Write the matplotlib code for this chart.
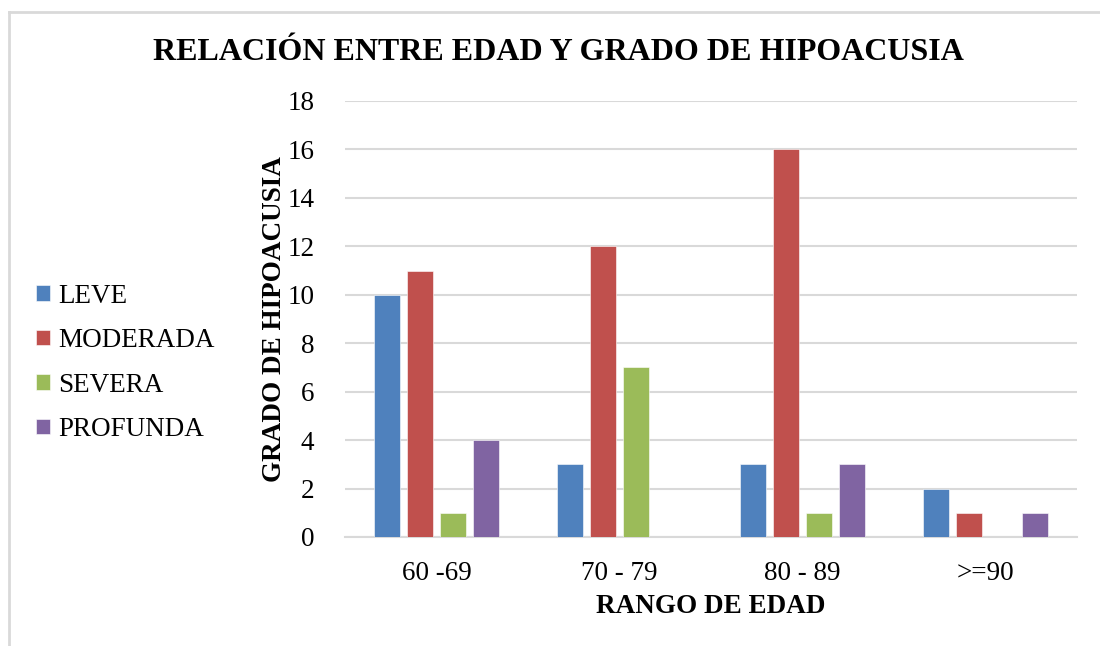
import matplotlib
matplotlib.use("Agg")
import matplotlib.pyplot as plt
from matplotlib.lines import Line2D
import numpy as np

categories = ["60 -69", "70 - 79", "80 - 89", ">=90"]
series_names = ["LEVE", "MODERADA", "SEVERA", "PROFUNDA"]
leve = [10, 3, 3, 2]
moderada = [11, 12, 16, 1]
severa = [1, 7, 1, 0]
profunda = [4, 0, 3, 1]
yticks = [0, 2, 4, 6, 8, 10, 12, 14, 16, 18]

colors = ["#4F81BD", "#C0504D", "#9BBB59", "#8064A2"]
plt.rcParams['font.family'] = ['Liberation Serif', 'DejaVu Serif']

fig = plt.figure(figsize=(11, 6.46), dpi=100)
ax = fig.add_axes([345/1100, 1-537/646, 732/1100, 436/646])

x = np.arange(len(categories))
step = 0.18
width = 0.142
for i, (name, vals) in enumerate(zip(series_names, [leve, moderada, severa, profunda])):
    ax.bar(x + (i - 1.5) * step, vals, width, color=colors[i], label=name,
           edgecolor="white", linewidth=0.4, zorder=3)

ax.set_xlim(-0.5, len(categories) - 0.5)
ax.set_ylim(0, 18)
ax.set_yticks(yticks)
ax.set_xticks(x)
ax.set_xticklabels(categories, fontsize=19.5)
ax.tick_params(axis='y', labelsize=19.5, length=0, pad=22)
ax.tick_params(axis='x', length=0, pad=17)
ax.grid(axis='y', color='#D9D9D9', linewidth=1.5, zorder=0)
for s in ['top', 'right', 'left']:
    ax.spines[s].set_visible(False)
ax.spines['bottom'].set_color('#D9D9D9')
ax.spines['bottom'].set_linewidth(1.5)

ax.set_xlabel("RANGO DE EDAD", fontsize=19.5, fontweight='bold', labelpad=6)
ax.set_ylabel("GRADO DE HIPOACUSIA", fontsize=19.5, fontweight='bold', labelpad=0)

fig.text(558/1100, 1-52/646, "RELACIÓN ENTRE EDAD Y GRADO DE HIPOACUSIA",
         ha='center', va='center', fontsize=23, fontweight='bold')

leg = fig.legend(loc='center left', bbox_to_anchor=(12/1100, 1-363/646), frameon=False,
                 fontsize=19.5, handlelength=0.5, handleheight=0.5, handletextpad=0.3,
                 labelspacing=0.72)

fig.add_artist(Line2D([9/1100, 9/1100], [0, 1-12/646], color='#D9D9D9', linewidth=2,
                      transform=fig.transFigure))
fig.add_artist(Line2D([9/1100, 1], [1-12/646, 1-12/646], color='#D9D9D9', linewidth=2,
                      transform=fig.transFigure))

fig.savefig("out.png", dpi=100)
